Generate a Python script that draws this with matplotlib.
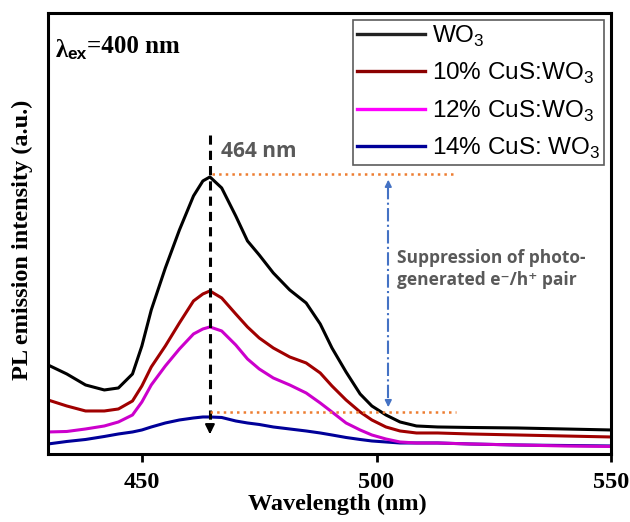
import numpy as np
import matplotlib
matplotlib.use('Agg')
import matplotlib.pyplot as plt
from matplotlib.lines import Line2D

plt.rcParams['mathtext.fontset'] = 'custom'
plt.rcParams['mathtext.rm'] = 'Liberation Sans'

# wavelength grid (nm) and PL intensities (a.u.)
wavelength = [430, 434, 438, 442, 445, 448, 450, 452, 455, 458, 461, 463, 464.5, 467,
              470, 472.5, 475, 478, 481.5, 485, 488, 490.5, 493.5, 496.5, 499, 502,
              505, 508.5, 513, 520, 530, 540, 550]
wo3 = [89, 80, 69, 64, 66, 80, 108, 144, 186, 224, 258, 273, 277, 266,
       238, 213, 199, 181, 164, 151, 130, 106, 82, 60, 48, 39,
       32, 28, 27, 26.5, 26, 25, 24]
cus10 = [54, 48, 43, 43, 45, 53, 68, 87, 108, 131, 153, 160, 163, 156,
         140, 127, 116, 106, 97, 91, 81, 68, 54, 42, 34, 27,
         23, 21, 21, 20, 19, 18, 17]
cus12 = [22, 22.5, 25, 28, 32, 39, 52, 69, 88, 105, 120, 125, 127, 123,
         109, 95, 85, 76, 69, 61, 51, 42, 31, 24, 19, 15,
         12, 11, 11, 10, 9, 8, 7.5]
cus14 = [10, 12.5, 14.5, 17.5, 20, 22, 24, 27, 31, 34, 36, 37, 37, 36.5,
         33, 31, 29.5, 27, 25, 23, 21, 19, 16.5, 14.5, 13, 12,
         11, 11, 11, 10, 9, 8.5, 8]

labels = ['WO$_3$', '10% CuS:WO$_3$', '12% CuS:WO$_3$', '14% CuS: WO$_3$']
colors = ['black', '#A00000', '#CC00CC', '#000099']
legend_colors = ['#222222', '#8B0000', '#FF00FF', '#000099']

peak_nm = 464.5
top_level = 280
bottom_level = 42
suppress_nm = 502.5

fig = plt.figure(figsize=(6.3, 5.22), dpi=100)
ax = fig.add_axes([0.0762, 0.1303, 0.894, 0.845])

# 14% drawn before 12% so the magenta trace sits on top at long wavelengths
for i in [0, 1, 3, 2]:
    y = [wo3, cus10, cus12, cus14][i]
    ax.plot(wavelength, y, color=colors[i], lw=2.2, label=labels[i], solid_joinstyle='round')

ax.set_xlim(430, 550)
ax.set_ylim(0, 441)
ax.set_xticks([450, 500, 550])
ax.set_yticks([])
ax.tick_params(axis='x', direction='out', length=6, width=2, pad=7)
for lab in ax.get_xticklabels():
    lab.set_fontfamily('Liberation Serif')
    lab.set_fontweight('bold')
    lab.set_fontsize(17.5)
for sp in ax.spines.values():
    sp.set_linewidth(2.2)

ax.set_xlabel('Wavelength (nm)', family='Liberation Serif', weight='bold', size=17.5)
ax.set_ylabel('PL emission intensity (a.u.)', family='Liberation Serif', weight='bold', size=17.5)
ax.xaxis.set_label_coords(0.513, -0.09)
ax.yaxis.set_label_coords(-0.027, 0.485)

# legend with handles in the lighter colours
handles = [Line2D([], [], color=lc, lw=2.4) for lc in legend_colors]
leg = ax.legend(handles, labels, loc='upper right', bbox_to_anchor=(0.988, 0.984),
                prop={'family': 'Liberation Sans', 'size': 17.5}, frameon=True,
                fancybox=False, handlelength=2.8, handletextpad=0.3,
                labelspacing=0.5, borderpad=0.15, borderaxespad=0)
leg.get_frame().set_edgecolor('#333333')
leg.get_frame().set_linewidth(1.2)

# 464 nm dashed arrow
ax.plot([peak_nm, peak_nm], [319, 24], color='black', lw=2.2, ls=(0, (3, 2)))
ax.annotate('', xy=(peak_nm, 17), xytext=(peak_nm, 27),
            arrowprops=dict(arrowstyle='-|>', color='black', lw=1.5, mutation_scale=14))
ax.text(peak_nm + 2.3, 302, '464 nm', color='#595959', family='Open Sans', weight='bold',
        size=15, va='center', ha='left')

# orange reference levels
ax.plot([peak_nm + 0.5, 517], [top_level, top_level], color='#ED7D31', lw=1.8, ls=':')
ax.plot([peak_nm, 517], [bottom_level, bottom_level], color='#ED7D31', lw=1.8, ls=':')

# suppression arrow
ax.plot([suppress_nm, suppress_nm], [268, 52], color='#4472C4', lw=1.5, ls='-.')
ax.annotate('', xy=(suppress_nm, 277), xytext=(suppress_nm, 265),
            arrowprops=dict(arrowstyle='-|>', color='#4472C4', lw=1.2, mutation_scale=10))
ax.annotate('', xy=(suppress_nm, 44), xytext=(suppress_nm, 56),
            arrowprops=dict(arrowstyle='-|>', color='#4472C4', lw=1.2, mutation_scale=10))
ax.text(suppress_nm + 1.8, 185, 'Suppression of photo-\ngenerated e\u207b/h\u207a pair',
        color='#595959', family=['Open Sans', 'DejaVu Sans'], weight='bold', size=12.5,
        va='center', ha='left', linespacing=1.3)

# excitation wavelength label
t1 = ax.text(0.013, 0.9, '\u03bb', transform=ax.transAxes, family='Liberation Serif',
             weight='bold', size=18, va='baseline')
t2 = ax.annotate('ex', xy=(1.0, 0.0), xycoords=t1, xytext=(0, 0), textcoords='offset points',
                 family='Liberation Sans', weight='bold', size=12.5, va='bottom', ha='left')
t3 = ax.annotate('=400 nm', xy=(1.0, 0.0), xycoords=t2, xytext=(0, 3), textcoords='offset points',
                 family='Liberation Serif', weight='bold', size=18, va='bottom', ha='left')

fig.savefig('out.png', dpi=100)
